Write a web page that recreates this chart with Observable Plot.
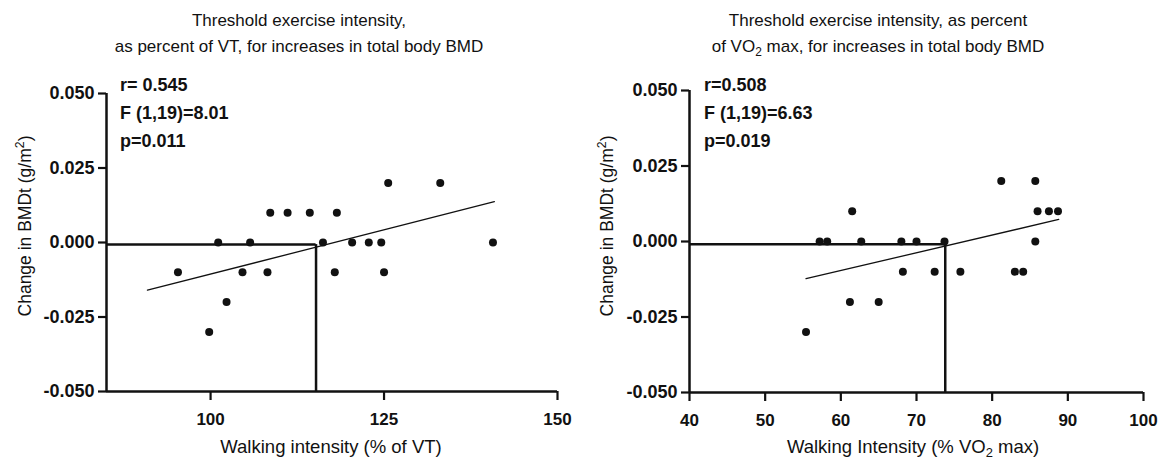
<!DOCTYPE html>
<html>
<head>
<meta charset="utf-8">
<script src="https://cdn.jsdelivr.net/npm/d3@7"></script>
<script src="https://cdn.jsdelivr.net/npm/@observablehq/plot@0.6"></script>
<style>
  html, body { margin: 0; padding: 0; background: #fff; }
  #wrap { position: relative; width: 1163px; height: 461px; overflow: hidden; font-family: "Liberation Sans", Arial, sans-serif; color: #111; }
  .panel { position: absolute; top: 0; height: 461px; }
  .title { position: absolute; font-size: 17px; line-height: 26px; text-align: center; white-space: nowrap; transform: translateX(-50%); }
  .xlab { position: absolute; font-size: 18.5px; line-height: 22px; white-space: nowrap; transform: translate(-50%, -50%); }
  .ylab { position: absolute; font-size: 17.5px; white-space: nowrap; transform: translate(-50%, -50%) rotate(-90deg); }
  .stats { position: absolute; font-size: 18px; font-weight: bold; line-height: 28px; white-space: nowrap; }
  sub { font-size: 70%; vertical-align: -0.3em; line-height: 0; }
  sup { font-size: 70%; vertical-align: 0.55em; line-height: 0; }
  #wrap svg g[aria-label="x-axis tick label"] text { font-size: 17px !important; font-weight: bold !important; }
  #wrap svg g[aria-label="y-axis tick label"] text { font-size: 18px !important; font-weight: bold !important; }
</style>
</head>
<body>
<div id="wrap"></div>
<script>
// ---- Data ----
const yTicks = [-0.05, -0.025, 0, 0.025, 0.05];

// Left panel: Walking intensity (% of VT)
const vtX = [95.3, 99.8, 101.1, 102.3, 104.6, 105.7, 108.2, 108.6, 111.1, 114.3, 116.2, 117.9, 118.2, 120.4, 122.8, 124.6, 125.0, 125.6, 133.1, 140.7];
const vtY = [-0.01, -0.03, 0, -0.02, -0.01, 0, -0.01, 0.01, 0.01, 0.01, 0, -0.01, 0.01, 0, 0, 0, -0.01, 0.02, 0.02, 0];
const vtFitX = [90.9, 140.9];
const vtFitY = [-0.0160, 0.0137];
const vtThresholdX = 115.2;
const vtThresholdY = -0.0007;
const vtDomain = [85, 150];
const vtTicks = [100, 125, 150];

// Right panel: Walking intensity (% VO2 max)
const voX = [55.4, 57.2, 58.2, 61.2, 61.5, 62.7, 65.0, 68.0, 68.2, 70.0, 72.4, 73.7, 75.8, 81.2, 83.0, 84.1, 85.7, 85.7, 86.0, 87.5, 88.7];
const voY = [-0.03, 0, 0, -0.02, 0.01, 0, -0.02, 0, -0.01, 0, -0.01, 0, -0.01, 0.02, -0.01, -0.01, 0.02, 0, 0.01, 0.01, 0.01];
const voFitX = [55.4, 88.8];
const voFitY = [-0.0123, 0.0073];
const voThresholdX = 73.8;
const voThresholdY = -0.0009;
const voDomain = [40, 100];
const voTicks = [40, 50, 60, 70, 80, 90, 100];

const fontFam = '"Liberation Sans", Arial, sans-serif';

function panel({xs, ys, fitX, fitY, thrX, thrY, xDomain, xTicks, width, mL, mR, mT, mB}) {
  const pts = xs.map((x, i) => ({x, y: ys[i]}));
  const fit = fitX.map((x, i) => ({x, y: fitY[i]}));
  return Plot.plot({
    width, height: 461,
    marginLeft: mL, marginRight: mR, marginTop: mT, marginBottom: mB,
    style: {fontFamily: fontFam, fontSize: "17px", fontWeight: "bold", color: "#111", background: "transparent"},
    x: {domain: xDomain, label: null},
    y: {domain: [-0.05, 0.05], label: null},
    marks: [
      Plot.axisX({ticks: xTicks, tickSize: 9, tickPadding: 12, strokeWidth: 2.2, fontSize: 17, fontWeight: "bold", tickFormat: d => String(d), label: null}),
      Plot.axisY({ticks: yTicks, tickSize: 8, tickPadding: 4, strokeWidth: 2.2, fontSize: 18, fontWeight: "bold", tickFormat: d => d.toFixed(3), label: null}),
      Plot.ruleY([-0.05], {x1: xDomain[0], x2: xDomain[1], stroke: "#111", strokeWidth: 2.5}),
      Plot.ruleX([xDomain[0]], {y1: -0.05, y2: 0.05, stroke: "#111", strokeWidth: 2.5}),
      Plot.ruleY([thrY], {x1: xDomain[0], x2: thrX, stroke: "#111", strokeWidth: 2.5}),
      Plot.ruleX([thrX], {y1: -0.05, y2: thrY, stroke: "#111", strokeWidth: 2.5}),
      Plot.line(fit, {x: "x", y: "y", stroke: "#111", strokeWidth: 1.3}),
      Plot.dot(pts, {x: "x", y: "y", r: 4, fill: "#111", stroke: "none"})
    ]
  });
}

const wrap = document.getElementById("wrap");

const left = panel({xs: vtX, ys: vtY, fitX: vtFitX, fitY: vtFitY, thrX: vtThresholdX, thrY: vtThresholdY,
  xDomain: vtDomain, xTicks: vtTicks, width: 580, mL: 106, mR: 23, mT: 93, mB: 70});
const lp = document.createElement("div"); lp.className = "panel"; lp.style.left = "0px"; lp.appendChild(left); wrap.appendChild(lp);

const right = panel({xs: voX, ys: voY, fitX: voFitX, fitY: voFitY, thrX: voThresholdX, thrY: voThresholdY,
  xDomain: voDomain, xTicks: voTicks, width: 583, mL: 109, mR: 20, mT: 90, mB: 69});
const rp = document.createElement("div"); rp.className = "panel"; rp.style.left = "580px"; rp.appendChild(right); wrap.appendChild(rp);

function addText(cls, html, style) {
  const d = document.createElement("div");
  d.className = cls; d.innerHTML = html;
  Object.assign(d.style, style);
  wrap.appendChild(d);
}

addText("title", "Threshold exercise intensity,<br>as percent of VT, for increases in total body BMD", {left: "299px", top: "8px"});
addText("title", "Threshold exercise intensity, as percent<br>of VO<sub>2</sub> max, for increases in total body BMD", {left: "878px", top: "8px"});
addText("stats", "r= 0.545<br>F (1,19)=8.01<br>p=0.011", {left: "120px", top: "71px"});
addText("stats", "r=0.508<br>F (1,19)=6.63<br>p=0.019", {left: "704px", top: "71px"});
addText("xlab", "Walking intensity (% of VT)", {left: "331px", top: "447px"});
addText("xlab", "Walking Intensity (% VO<sub>2</sub> max)", {left: "913px", top: "447px"});
addText("ylab", "Change in BMDt (g/m<sup>2</sup>)", {left: "25px", top: "226px"});
addText("ylab", "Change in BMDt (g/m<sup>2</sup>)", {left: "607px", top: "226px"});
</script>
</body>
</html>
